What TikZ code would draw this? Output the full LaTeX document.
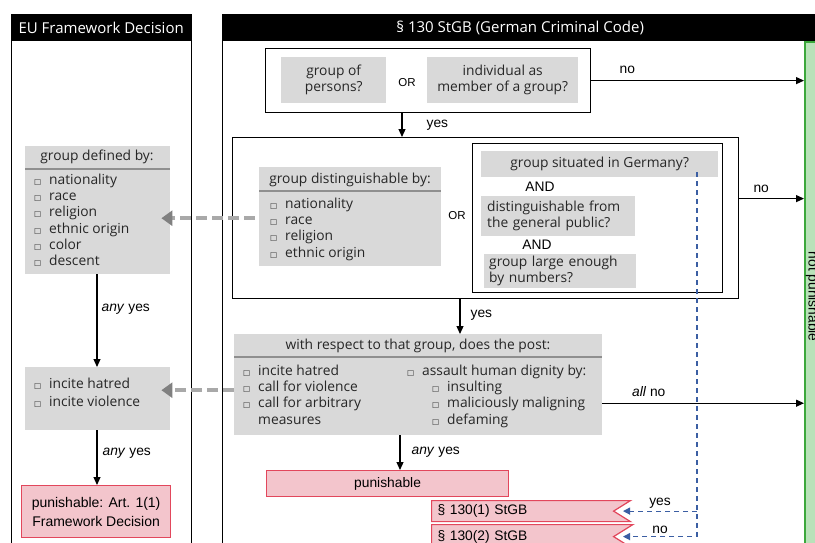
\documentclass[tikz,border=0pt]{standalone}
\usepackage{fontspec}
\setmainfont{Open Sans}
\newfontfamily\arialfont{Liberation Sans}
\newfontfamily\symfont{DejaVu Sans}
\usetikzlibrary{arrows.meta,shapes.symbols}

\definecolor{boxgray}{HTML}{D9D9D9}
\definecolor{rulegray}{HTML}{8F8F8F}
\definecolor{punred}{HTML}{F3C5CC}
\definecolor{punborder}{HTML}{E2475C}
\definecolor{notgreen}{HTML}{B9E2B9}
\definecolor{greenborder}{HTML}{3CA83C}
\definecolor{linkblue}{HTML}{3B5EA3}
\definecolor{dashgray}{HTML}{A9A9A9}
\definecolor{tipgray}{HTML}{808080}

\newcommand{\questionfont}{\fontsize{13.8}{16.3}\selectfont}
\newcommand{\colheadfont}{\fontsize{15}{17}\selectfont}
\newcommand{\edgefont}{\arialfont\fontsize{13.8}{15.5}\selectfont}
\newcommand{\chkbox}{\makebox[15pt][l]{\symfont\fontsize{7.5}{7.5}\selectfont □}}
\newcommand{\chkgap}{\hspace*{15pt}}

\begin{document}
\begin{tikzpicture}[x=1pt,y=-1pt]
  % Define styles for nodes
  \tikzstyle{column} = [anchor=north west, draw, rectangle, inner sep=0pt, line width=1pt]
  \tikzstyle{colhead} = [anchor=north west, fill=black, text=white, inner sep=0pt,
  minimum height=27pt, font=\colheadfont]
  \tikzstyle{frame} = [anchor=north west, draw, rectangle, inner sep=0pt, line width=1.2pt]
  \tikzstyle{question} = [anchor=north west, fill=boxgray, rectangle, inner sep=0pt,
  align=center, text=black!85, font=\questionfont]
  \tikzstyle{items} = [anchor=north west, inner sep=0pt, align=left, text=black!85,
  font=\questionfont]
  \tikzstyle{verdict} = [anchor=north west, fill=punred, draw=punborder, line width=1.2pt,
  inner sep=0pt, align=center, font=\edgefont]
  \tikzstyle{lawref} = [verdict, signal, signal from=east, signal to=nowhere,
  signal pointer angle=64, minimum width=194pt, inner xsep=6pt, text width=170pt, align=left]
  \tikzstyle{edgetext} = [font=\edgefont, text=black, inner sep=2pt]
  \tikzstyle{headrule} = [rulegray, line width=1.3pt]
  \tikzstyle{flow} = [line width=1.2pt, -{Triangle[length=8pt,width=7pt]}]
  \tikzstyle{mapsto} = [line width=4pt, dashgray, dash pattern=on 11pt off 5pt,
  -{Triangle[length=11pt,width=15pt,color=tipgray]}]
  \tikzstyle{link} = [line width=1.2pt, linkblue, dash pattern=on 5pt off 4pt,
  -{Triangle[length=7pt,width=7pt]}]

  \useasboundingbox (0,0) rectangle (815,542);
  \clip (0,0) rectangle (815,542);

  % Columns
  \node[column, minimum width=180pt, minimum height=540pt] (eucol) at (11,14) {};
  \node[colhead, minimum width=180pt] (euhead) at (11,14) {EU Framework Decision};
  \node[column, minimum width=596pt, minimum height=540pt] (stgbcol) at (222,14) {};
  \node[colhead, minimum width=596pt] (stgbhead) at (222,14) {\S\ 130 StGB (German Criminal Code)};

  % not punishable
  \node[anchor=north west, fill=notgreen, draw=greenborder, line width=1.5pt,
  minimum width=15pt, minimum height=510pt] (notpun) at (804,41) {};
  \node[rotate=-90, font=\edgefont] (notpuntext) at (notpun.center) {not punishable};

  % First question
  \node[frame, minimum width=325pt, minimum height=64pt] (persons) at (265,48) {};
  \node[question, minimum width=105pt, minimum height=46pt] (groupq) at (281,57) {group of\\persons?};
  \node[edgetext, font=\arialfont\fontsize{11.5}{13}\selectfont] (or1) at (407,83) {OR};
  \node[question, minimum width=151pt, minimum height=46pt] (memberq) at (427,57)
  {individual as\\member of a group?};

  % Second question
  \node[frame, minimum width=506pt, minimum height=161pt] (grouptest) at (232,137) {};
  \node[question, minimum width=182pt, minimum height=99pt] (distby) at (259,167) {};
  \node[font=\questionfont, text=black!85] (distbyhead) at (350,180) {group distinguishable by:};
  \node[items] (distbylist) at (270,197.5)
  {\chkbox nationality\\\chkbox race\\\chkbox religion\\\chkbox ethnic origin};
  \node[edgetext, font=\arialfont\fontsize{11.5}{13}\selectfont] (or2) at (457,216) {OR};
  \node[frame, line width=1pt, minimum width=250pt, minimum height=149pt] (germanyframe) at (472,143) {};
  \node[question, minimum width=237pt, minimum height=26pt] (situated) at (481,151)
  {group situated in Germany?};
  \node[edgetext] (and1) at (540,187) {AND};
  \node[question, inner xsep=6pt, text width=142pt, minimum height=40pt, align=left] (public)
  at (481,196) {distinguishable from\\the general public?};
  \node[edgetext] (and2) at (537,245) {AND};
  \node[question, inner xsep=5pt, text width=142pt, minimum height=34pt, align=left] (numbers)
  at (484,254) {group large enough\\by numbers?};

  % Third question
  \node[question, minimum width=368pt, minimum height=101pt] (postq) at (234,334) {};
  \node[font=\questionfont, text=black!85] (postqhead) at (418,346)
  {with respect to that group, does the post:};
  \node[items] (incitelist) at (243,364.5)
  {\chkbox incite hatred\\\chkbox call for violence\\\chkbox call for arbitrary\\\chkgap measures};
  \node[items] (dignitylist) at (407,364.5)
  {\chkbox assault human dignity by:\\\hspace*{25pt}\chkbox insulting\\
  \hspace*{25pt}\chkbox maliciously maligning\\\hspace*{25pt}\chkbox defaming};

  % Results
  \node[verdict, minimum width=242pt, minimum height=26pt] (punishable) at (266,470) {punishable};
  \node[lawref, minimum height=21pt] (sec1) at (431,500) {\S\ 130(1) StGB};
  \node[lawref, minimum height=24pt] (sec2) at (431,524) {\S\ 130(2) StGB};

  % EU Framework Decision
  \node[question, minimum width=145pt, minimum height=128pt] (defined) at (25,146) {};
  \node[font=\questionfont, text=black!85] (definedhead) at (97,157) {group defined by:};
  \node[items] (definedlist) at (34,173.5)
  {\chkbox nationality\\\chkbox race\\\chkbox religion\\\chkbox ethnic origin\\\chkbox color\\\chkbox descent};
  \node[question, minimum width=145pt, minimum height=63pt] (incite) at (25,367) {};
  \node[items, font=\fontsize{13.8}{18}\selectfont] (incitelist2) at (34,377.5)
  {\chkbox incite hatred\\\chkbox incite violence};
  \node[verdict, minimum width=149pt, minimum height=52pt, font=\arialfont\fontsize{14}{19}\selectfont]
  (artone) at (21,485) {punishable: Art. 1(1)\\Framework Decision};

  % Header rules
  \draw[headrule] (distby.west |- 0,191) -- (distby.east |- 0,191);
  \draw[headrule] (postq.west |- 0,357) -- (postq.east |- 0,357);
  \draw[headrule] (defined.west |- 0,169) -- (defined.east |- 0,169);

  % Connections
  \coordinate (firstx) at (402,0);
  \coordinate (secondx) at (460,0);
  \coordinate (thirdx) at (400,0);
  \coordinate (eux) at (97,0);
  \coordinate (bluex) at (697,0);
  \coordinate (tipx) at (623,0);

  \draw[flow] (persons.east) -- node[edgetext, above, pos=0.17, yshift=4pt] {no} (persons.east -| notpun.west);
  \draw[flow] (persons.south -| firstx) -- node[edgetext, anchor=west, pos=0.5, xshift=22pt] {yes}
  (grouptest.north -| firstx);
  \draw[flow] ([yshift=19.5pt]grouptest.east) -- node[edgetext, above, pos=0.34, yshift=3pt] {no}
  ([yshift=19.5pt]grouptest.east -| notpun.west);
  \draw[flow] (grouptest.south -| secondx) -- node[edgetext, anchor=west, pos=0.47, xshift=8pt] {yes}
  (postq.north -| secondx);
  \draw[flow] ([yshift=-18.5pt]postq.east) -- node[edgetext, above, pos=0.23, yshift=4pt] {\textit{all} no}
  ([yshift=-18.5pt]postq.east -| notpun.west);
  \draw[flow] (postq.south -| thirdx) -- node[edgetext, anchor=west, pos=0.5, xshift=9pt] {\textit{any} yes}
  (punishable.north -| thirdx);

  \draw[flow] (defined.south -| eux) -- node[edgetext, anchor=west, pos=0.38, xshift=2pt] {\textit{any} yes}
  (incite.north -| eux);
  \draw[flow] (incite.south -| eux) -- node[edgetext, anchor=west, pos=0.42, xshift=3pt] {\textit{any} yes}
  (artone.north -| eux);

  \draw[mapsto, shorten >=-9pt, shorten <=4pt] ([yshift=-1.5pt]distby.west) -- ([yshift=-1.5pt]distby.west -| defined.east);
  \draw[mapsto, shorten >=-9pt] ([yshift=-5.5pt]postq.west) -- ([yshift=-5.5pt]postq.west -| incite.east);

  \draw[link] ([yshift=5pt]situated.south -| bluex) -- (bluex |- sec2.center)
  -- node[edgetext, above] {no} (tipx |- sec2.center);
  \draw[link] (bluex |- sec1.center) -- node[edgetext, above] {yes} (tipx |- sec1.center);
\end{tikzpicture}
\end{document}
